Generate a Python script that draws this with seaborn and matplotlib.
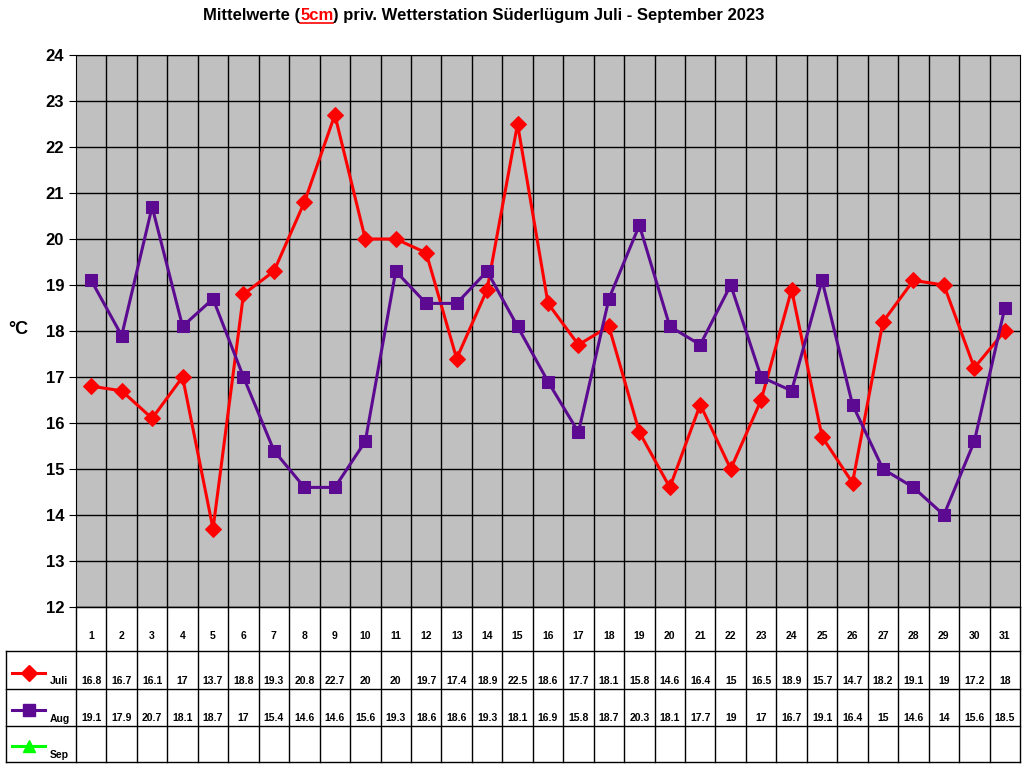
import matplotlib
matplotlib.use("Agg")
import matplotlib.pyplot as plt
import seaborn as sns
import pandas as pd
import numpy as np

plt.rcParams["font.family"] = "Liberation Sans"

days = list(range(1, 32))
juli = [16.8,16.7,16.1,17,13.7,18.8,19.3,20.8,22.7,20,20,19.7,17.4,18.9,22.5,18.6,17.7,18.1,15.8,14.6,16.4,15,16.5,18.9,15.7,14.7,18.2,19.1,19,17.2,18]
aug = [19.1,17.9,20.7,18.1,18.7,17,15.4,14.6,14.6,15.6,19.3,18.6,18.6,19.3,18.1,16.9,15.8,18.7,20.3,18.1,17.7,19,17,16.7,19.1,16.4,15,14.6,14,15.6,18.5]
yticks = list(range(12, 25))

W, H = 1024, 768
fig = plt.figure(figsize=(W/100, H/100), dpi=100)
L, R, T, B = 76, 1020, 55, 607
ax = fig.add_axes([L/W, 1-B/H, (R-L)/W, (B-T)/H])
ax.set_facecolor("#C0C0C0")
df = pd.DataFrame({"day": days*2, "val": juli+aug, "m": ["Juli"]*31+["Aug"]*31})
sns.lineplot(data=df[df.m=="Juli"], x="day", y="val", color="#FF0000", lw=2.2,
             marker="D", markersize=8, markeredgecolor="#FF0000", ax=ax)
sns.lineplot(data=df[df.m=="Aug"], x="day", y="val", color="#5C0A91", lw=2.2,
             marker="s", markersize=9, markeredgecolor="#5C0A91", ax=ax)
ax.set_xlim(0.5, 31.5)
ax.set_ylim(12, 24)
ax.set_yticks(yticks)
ax.set_yticklabels([str(v) for v in yticks], fontsize=12, fontweight="bold")
ax.set_xticks([])
for x in np.arange(1.5, 31.5, 1):
    ax.axvline(x, color="black", lw=1, zorder=0.5)
for y in yticks:
    ax.axhline(y, color="black", lw=1, zorder=0.5)
for s in ax.spines.values():
    s.set_color("black")
ax.set_xlabel(""); ax.set_ylabel("")
ax.tick_params(axis="y", length=5)
fig.text(18/W, 1-330/H, "°C", fontsize=13, fontweight="bold", ha="center", va="center")

# title
t1 = fig.text(203/W, 1-20/H, "Mittelwerte (", fontsize=12, fontweight="bold", ha="left", va="baseline")
t2 = fig.text(0, 0, "5cm", fontsize=12, fontweight="bold", color="red", ha="left", va="baseline")
t3 = fig.text(0, 0, ") priv. Wetterstation Süderlügum Juli - September 2023", fontsize=12, fontweight="bold", ha="left", va="baseline")
fig.canvas.draw()
r = fig.canvas.get_renderer()
bb1 = t1.get_window_extent(r)
t2.set_position((bb1.x1/W, 1-20/H))
bb2 = t2.get_window_extent(r)
t3.set_position((bb2.x1/W, 1-20/H))
fig.add_artist(plt.Line2D([bb2.x0/W, bb2.x1/W], [1-23/H, 1-23/H], color="red", lw=1.2))

# table
tx = fig.add_axes([0, 0, 1, 1], facecolor="none")
tx.set_xlim(0, W); tx.set_ylim(H, 0); tx.axis("off")
cw = (R-L)/31
rows = [607, 651, 689, 726, 762]
for i in range(32):
    x = L + i*cw
    tx.plot([x, x], [607, 762], color="black", lw=1)
tx.plot([6, 6], [651, 762], color="black", lw=1)
tx.plot([L, R], [607, 607], color="black", lw=1)
for y in rows[1:]:
    tx.plot([6, R], [y, y], color="black", lw=1)
for i, d in enumerate(days):
    cx = L + (i+0.5)*cw
    tx.text(cx, 636, str(d), ha="center", va="center", fontsize=7.5, fontweight="bold")
    tx.text(cx, 681, f"{juli[i]:g}", ha="center", va="center", fontsize=7.5, fontweight="bold")
    tx.text(cx, 718, f"{aug[i]:g}", ha="center", va="center", fontsize=7.5, fontweight="bold")
leg = [("Juli", "#FF0000", "D", 673, 681), ("Aug", "#5C0A91", "s", 710, 719), ("Sep", "#00FF00", "^", 746, 755)]
for name, c, m, ly, ty in leg:
    tx.plot([12, 45], [ly, ly], color=c, lw=2.2)
    tx.plot([28.5], [ly], marker=m, color=c, markersize=8)
    tx.text(50, ty, name, fontsize=7.5, fontweight="bold", va="center")

fig.savefig("out.png", dpi=100)
